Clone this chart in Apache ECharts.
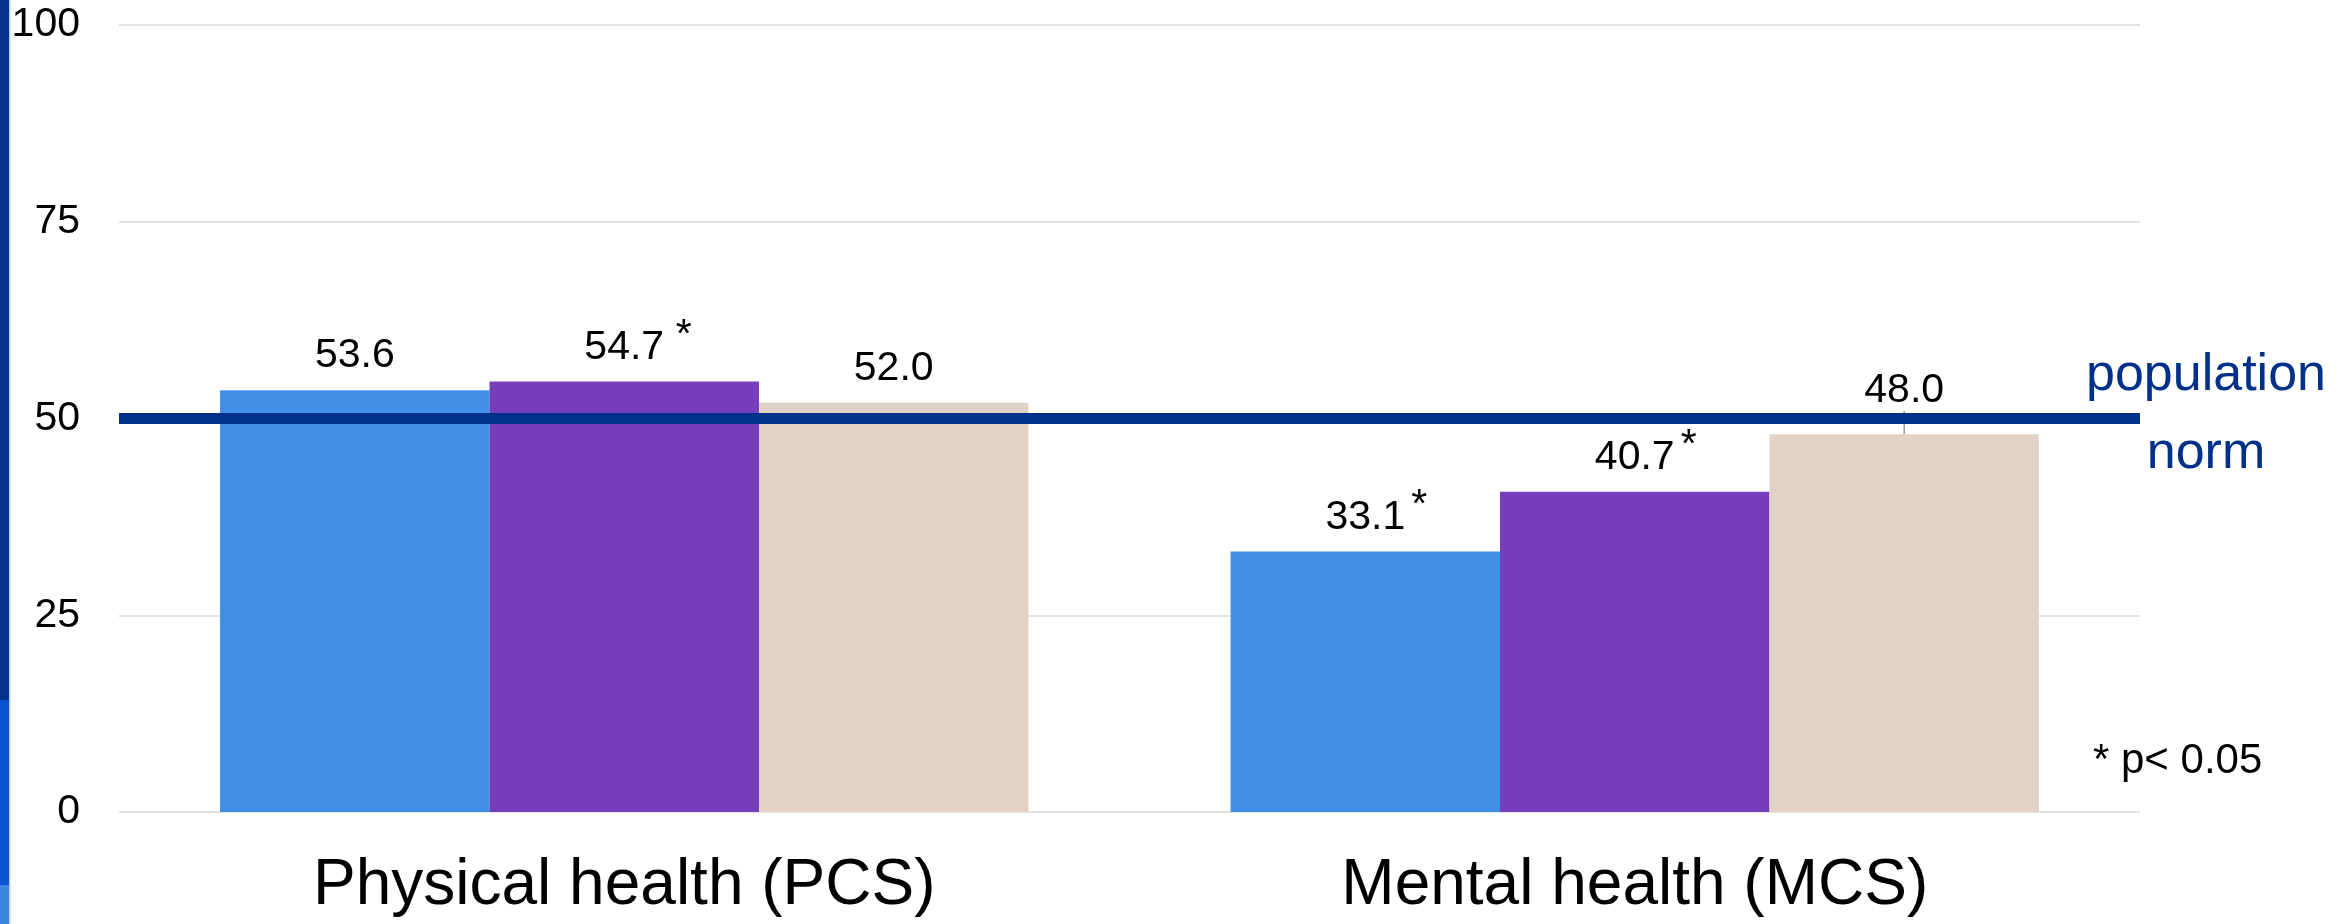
<!DOCTYPE html>
<html>
<head>
<meta charset="utf-8">
<script src="https://cdn.jsdelivr.net/npm/echarts@6/dist/echarts.min.js"></script>
<style>
  html, body { margin: 0; padding: 0; background: #ffffff; }
  #chart { width: 2338px; height: 924px; }
</style>
</head>
<body>
<div id="chart"></div>
<script>
// SF-36 summary scores per group
const categories = ['Physical health (PCS)', 'Mental health (MCS)'];
const groupA = [53.6, 33.1];
const groupB = [54.7, 40.7];
const groupC = [52.0, 48.0];
// significance markers appended to each value label
const marksA = ['', '*'];
const marksB = [' *', '*'];
const marksC = ['', ''];
const yTicks = [0, 25, 50, 75, 100];
const populationNorm = 50;

const FONT = "'Liberation Sans', Arial, Helvetica, sans-serif";
const colors = ['#418fe8', '#783dbd', '#e2d2c6'];
const NAVY = '#00308a';

const grid = { left: 119, right: 198, top: 25, bottom: 112 };
const chartH = 924;
const plotH = chartH - grid.top - grid.bottom;
const yMin = yTicks[0], yMax = yTicks[yTicks.length - 1];
const pxPerUnit = plotH / (yMax - yMin);
const LABEL_DIST = 10, LABEL_H = 48, LINE_W = 11;

// does a value label sit on top of the population-norm line?
function labelHitsNorm(v) {
  const lo = v + LABEL_DIST / pxPerUnit;
  const hi = v + (LABEL_DIST + LABEL_H * 0.75) / pxPerUnit;
  const half = (LINE_W / 2) / pxPerUnit;
  return lo < populationNorm + half && hi > populationNorm - half;
}

const allMarks = [marksA, marksB, marksC];

function buildData(values) {
  return values.map(v => ({
    value: v,
    labelLine: labelHitsNorm(v)
      ? { show: true, length2: 0, lineStyle: { color: '#9a9a9a', width: 1.5 } }
      : { show: false }
  }));
}

const valueLabel = {
  show: true,
  position: 'top',
  distance: LABEL_DIST,
  color: '#000',
  fontFamily: FONT,
  formatter: function (p) {
    const m = allMarks[p.seriesIndex][p.dataIndex];
    const v = Number(p.value).toFixed(1);
    return m ? '{pad|}{v|' + v + '}{s|' + m + '}' : '{v|' + v + '}';
  },
  rich: {
    v: { fontSize: 41, lineHeight: LABEL_H, fontFamily: FONT, color: '#000' },
    pad: { width: 28, lineHeight: LABEL_H },
    s: { width: 28, align: 'left', fontSize: 41, lineHeight: 20, padding: [0, 0, 24, 0], fontFamily: FONT, color: '#000' }
  }
};

function liftOverlapping(values) {
  return function (p) {
    return labelHitsNorm(values[p.dataIndex]) ? { dy: -LABEL_DIST } : {};
  };
}

function makeSeries(name, values, color, idx) {
  const s = {
    name: name,
    type: 'bar',
    data: buildData(values),
    barGap: 0,
    barCategoryGap: '20%',
    itemStyle: { color: color },
    label: valueLabel,
    labelLayout: liftOverlapping(values),
    emphasis: { disabled: true },
    animation: false
  };
  if (idx === 0) {
    s.markLine = {
      silent: true,
      symbol: ['none', 'none'],
      z: 5,
      label: { show: false },
      lineStyle: { color: NAVY, width: LINE_W, type: 'solid' },
      data: [{ yAxis: populationNorm }],
      animation: false
    };
  }
  return s;
}

const chart = echarts.init(document.getElementById('chart'), null, { renderer: 'canvas' });

chart.setOption({
  animation: false,
  backgroundColor: '#ffffff',
  grid: grid,
  xAxis: {
    type: 'category',
    data: categories,
    axisLine: { show: false },
    axisTick: { show: false },
    axisLabel: {
      fontSize: 64,
      lineHeight: 64,
      fontFamily: FONT,
      color: '#000',
      margin: 42,
      interval: 0
    }
  },
  yAxis: {
    type: 'value',
    min: yMin,
    max: yMax,
    interval: 25,
    axisLine: { show: false },
    axisTick: { show: false },
    axisLabel: {
      fontSize: 41,
      fontFamily: FONT,
      color: '#000',
      margin: 39
    },
    splitLine: { lineStyle: { color: '#d9d9d9', width: 1.5 } }
  },
  series: [
    makeSeries('Group A', groupA, colors[0], 0),
    makeSeries('Group B', groupB, colors[1], 1),
    makeSeries('Group C', groupC, colors[2], 2)
  ],
  graphic: [
    // slide edge accent on the left border
    { type: 'rect', left: 0, top: 0, z: 0, shape: { width: 9, height: 700 }, style: { fill: '#06318d' } },
    { type: 'rect', left: 0, top: 700, z: 0, shape: { width: 9, height: 224 }, style: { fill: '#0a55cf' } },
    { type: 'rect', left: 0, top: 885, z: 0, shape: { width: 9, height: 39 }, style: { fill: '#3d86df' } },
    { type: 'rect', left: 9, top: 0, z: 0, shape: { width: 1.5, height: 924 }, style: { fill: '#b9cdef' } },
    {
      type: 'text',
      x: 2206,
      y: 337,
      z: 10,
      style: {
        text: 'population\nnorm',
        fontSize: 52,
        lineHeight: 78,
        fontFamily: FONT,
        fill: NAVY,
        align: 'center',
        verticalAlign: 'top'
      }
    },
    {
      type: 'text',
      x: 2093,
      y: 761,
      z: 10,
      style: {
        text: '* p< 0.05',
        fontSize: 42,
        fontFamily: FONT,
        fill: '#000',
        align: 'left',
        verticalAlign: 'middle'
      }
    }
  ]
});
</script>
</body>
</html>
